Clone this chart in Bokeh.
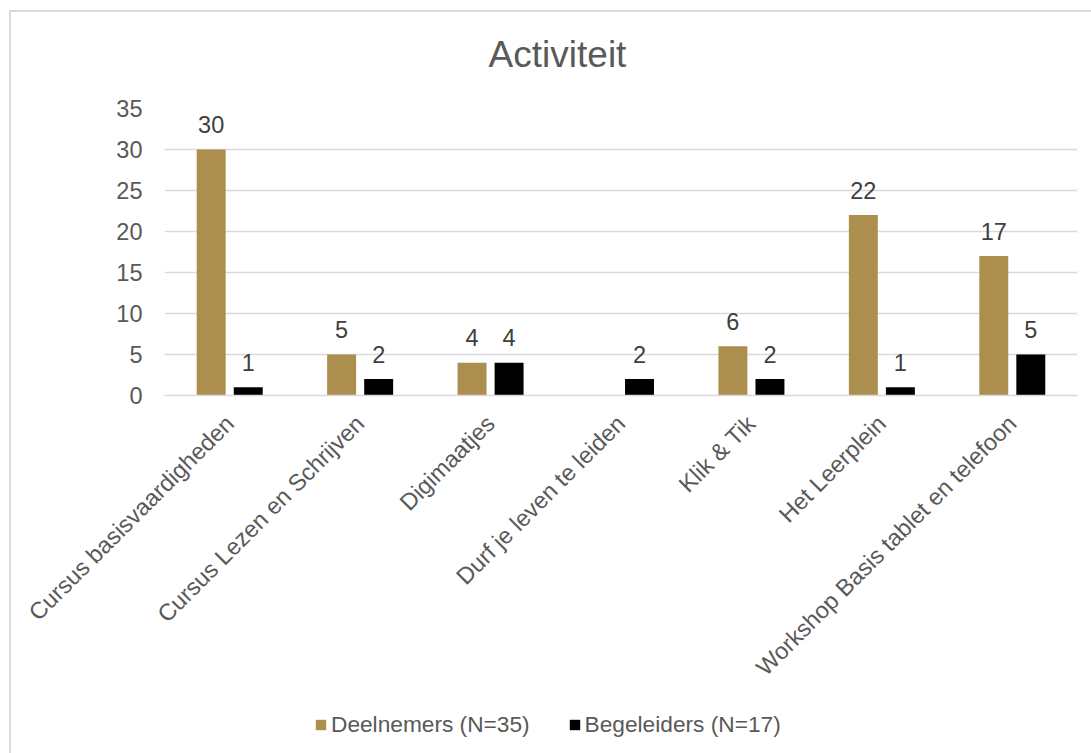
import math

from bokeh.core.properties import value
from bokeh.embed import file_html
from bokeh.layouts import column
from bokeh.models import (ColumnDataSource, FactorRange, FixedTicker, Label,
                          Legend, LegendItem, Range1d)
from bokeh.plotting import figure
from bokeh.resources import INLINE
from bokeh.transform import dodge

# --- data -------------------------------------------------------------------
categories = [
    "Cursus basisvaardigheden",
    "Cursus Lezen en Schrijven",
    "Digimaatjes",
    "Durf je leven te leiden",
    "Klik & Tik",
    "Het Leerplein",
    "Workshop Basis tablet en telefoon",
]
deelnemers = [30, 5, 4, 0, 6, 22, 17]
begeleiders = [1, 2, 4, 2, 2, 1, 5]
series_names = ["Deelnemers (N=35)", "Begeleiders (N=17)"]
y_ticks = [0, 5, 10, 15, 20, 25, 30, 35]
chart_title = "Activiteit"

# --- style ------------------------------------------------------------------
FONT = "Liberation Sans"
GOLD = "#AC8F4F"
BLACK = "#000000"
GRID = "#D9D9D9"
TXT = "#595959"
LBL = "#404040"
FS = "23.5px"
FS_LEG = "22.7px"
W = 1080                              # canvas width (the chart border sits outside it)
H_TITLE, H_MAIN, H_LEG = 74, 622, 45  # title strip, chart, legend strip
FL, FR, FT, FB = 153, 1066, 22, 309   # plot-area edges on the chart canvas

src = ColumnDataSource(dict(cat=categories, d=deelnemers, b=begeleiders))
x_range = FactorRange(*categories, range_padding=0)


def strip(height):
    """A plain canvas without axes, sharing the chart's horizontal frame."""
    f = figure(width=W, height=height, x_range=x_range, y_range=Range1d(0, 1),
               x_axis_type=None, y_axis_type=None, output_backend="svg",
               toolbar_location=None, min_border=0)
    f.outline_line_color = None
    f.grid.visible = False
    f.background_fill_color = "white"
    f.border_fill_color = "white"
    return f


# --- title ------------------------------------------------------------------
tf = strip(H_TITLE)
tf.add_layout(Label(x=393, y=H_TITLE - 42, x_units="screen", y_units="screen",
                    text=chart_title, text_font=FONT, text_font_size="37px",
                    text_color=TXT, text_align="center", text_baseline="middle"))

# --- chart ------------------------------------------------------------------
p = figure(
    width=W, height=H_MAIN,
    x_range=x_range, y_range=Range1d(0, 35),
    output_backend="svg", toolbar_location=None,
    min_border_left=FL, min_border_right=W - FR,
    min_border_top=FT, min_border_bottom=H_MAIN - FB,
)
p.outline_line_color = None
p.background_fill_color = "white"
p.border_fill_color = "white"

BAR_W = 0.222
OFF = 0.142
bar_style = dict(width=BAR_W, source=src, line_color=None)
p.vbar(x=dodge("cat", -OFF, range=x_range), top="d", fill_color=GOLD, **bar_style)
p.vbar(x=dodge("cat", OFF, range=x_range), top="b", fill_color=BLACK, **bar_style)

# value labels above the bars (zero values are not labelled)
for vals, off in ((deelnemers, -OFF), (begeleiders, OFF)):
    cats = [c for c, v in zip(categories, vals) if v != 0]
    vs = [v for v in vals if v != 0]
    s = ColumnDataSource(dict(cat=cats, v=vs, t=[str(v) for v in vs]))
    p.text(x=dodge("cat", off, range=x_range), y="v", text="t", source=s,
           text_font=value(FONT), text_font_size=FS, text_color=LBL,
           text_align="center", text_baseline="alphabetic", y_offset=-25)

p.yaxis.ticker = FixedTicker(ticks=y_ticks)
p.yaxis.axis_line_color = None
p.yaxis.major_tick_line_color = None
p.yaxis.minor_tick_line_color = None
p.yaxis.major_label_standoff = 16
p.yaxis.major_label_text_font = FONT
p.yaxis.major_label_text_font_size = FS
p.yaxis.major_label_text_color = TXT

p.xaxis.axis_line_color = GRID
p.xaxis.axis_line_width = 1.5
p.xaxis.major_tick_line_color = None
p.xaxis.minor_tick_line_color = None
p.xaxis.major_label_orientation = math.pi / 4
p.xaxis.major_label_standoff = 18
p.xaxis.major_label_text_font = FONT
p.xaxis.major_label_text_font_size = FS
p.xaxis.major_label_text_color = TXT

p.xgrid.grid_line_color = None
p.ygrid.grid_line_color = GRID
p.ygrid.grid_line_width = 1.5

# --- legend strip; its key renderers reuse the series data but stay hidden --
lf = strip(H_LEG)
k1 = lf.vbar(x=dodge("cat", -OFF, range=x_range), top="d", fill_color=GOLD,
             visible=False, **bar_style)
k2 = lf.vbar(x=dodge("cat", OFF, range=x_range), top="b", fill_color=BLACK,
             visible=False, **bar_style)
legend = Legend(
    items=[LegendItem(label=series_names[0], renderers=[k1]),
           LegendItem(label=series_names[1], renderers=[k2])],
    location=(150, 15), orientation="horizontal",
    glyph_width=13, glyph_height=13, label_standoff=4, spacing=38,
    padding=0, margin=0, border_line_color=None, background_fill_alpha=0,
    inactive_fill_alpha=0,
    label_text_font=FONT, label_text_font_size=FS_LEG, label_text_color=TXT,
    label_text_baseline="middle",
)
lf.add_layout(legend, "center")

layout = column(
    tf, p, lf, spacing=0, margin=(10, 0, 0, 9),
    styles={"border-top": "2px solid #D9D9D9", "border-left": "2px solid #D9D9D9"},
)

open("out.html", "w").write(file_html(layout, INLINE))
